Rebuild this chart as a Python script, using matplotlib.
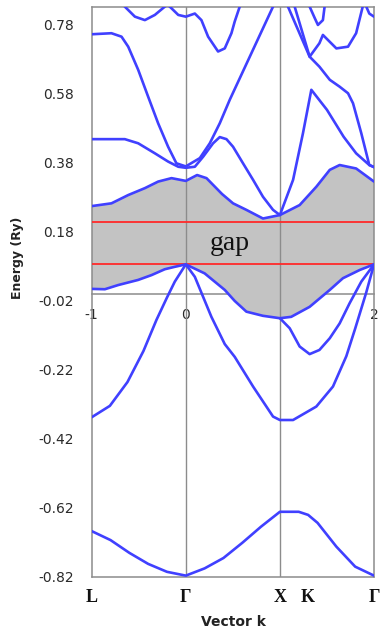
import matplotlib
matplotlib.use("Agg")
import matplotlib.pyplot as plt

# ---- data ----
ytick_values = [-0.82, -0.62, -0.42, -0.22, -0.02, 0.18, 0.38, 0.58, 0.78]
xtick_values = [-1, 0, 1, 2]
sym_positions = [-1, 0, 1, 1.3, 2]
sym_labels = ["L", "Γ", "X", "K", "Γ"]
gap_top = 0.21
gap_bottom = 0.086

band1_k = [-1, -0.8, -0.6, -0.4, -0.2, 0, 0.2, 0.4, 0.6, 0.8, 1.0, 1.2, 1.3, 1.4, 1.6, 1.8, 2.0]
band1_E = [-0.687, -0.713, -0.750, -0.782, -0.805, -0.816, -0.795, -0.765, -0.721, -0.674, -0.631,
           -0.631, -0.640, -0.663, -0.732, -0.790, -0.816]

band2_k = [-1, -0.807, -0.62, -0.45, -0.312, -0.2, -0.117, 0, 0.096, 0.272, 0.414, 0.52, 0.715,
           0.927, 1.0, 1.14, 1.387, 1.564, 1.706, 1.80, 1.918, 2.0]
band2_E = [-0.357, -0.324, -0.255, -0.165, -0.075, -0.010, 0.036, 0.086, 0.050, -0.066, -0.145,
           -0.182, -0.268, -0.355, -0.365, -0.365, -0.326, -0.268, -0.180, -0.100, 0.005, 0.086]

band3_k = [1.0, 1.104, 1.21, 1.316, 1.42, 1.53, 1.635, 1.74, 1.865, 2.0]
band3_E = [-0.070, -0.099, -0.152, -0.174, -0.162, -0.128, -0.085, -0.027, 0.036, 0.086]

band4_k = [-1, -0.86, -0.72, -0.506, -0.364, -0.223, -0.117, 0, 0.2, 0.414, 0.52, 0.644, 0.82,
           1.0, 1.12, 1.316, 1.53, 1.67, 1.85, 2.0]
band4_E = [0.015, 0.014, 0.026, 0.041, 0.055, 0.072, 0.079, 0.086, 0.060, 0.012, -0.020, -0.051,
           -0.063, -0.070, -0.066, -0.037, 0.012, 0.046, 0.070, 0.086]

band5_k = [-1, -0.79, -0.612, -0.435, -0.294, -0.152, 0, 0.12, 0.22, 0.385, 0.502, 0.644, 0.82,
           1.0, 1.21, 1.387, 1.53, 1.635, 1.81, 2.0]
band5_E = [0.255, 0.263, 0.287, 0.307, 0.326, 0.336, 0.328, 0.345, 0.336, 0.290, 0.263, 0.244,
           0.219, 0.229, 0.258, 0.311, 0.360, 0.374, 0.364, 0.326]

band6_k = [-1, -0.648, -0.506, -0.329, -0.188, -0.08, 0, 0.096, 0.184, 0.29, 0.361, 0.432, 0.502,
           0.608, 0.715, 0.82, 0.927, 1.0, 1.14, 1.245, 1.334, 1.5, 1.677, 1.81, 1.95, 2.0]
band6_E = [0.449, 0.449, 0.437, 0.408, 0.384, 0.369, 0.366, 0.369, 0.398, 0.437, 0.455, 0.449,
           0.427, 0.379, 0.331, 0.282, 0.244, 0.229, 0.331, 0.466, 0.592, 0.534, 0.456, 0.408,
           0.374, 0.368]

band7_k = [-1, -0.79, -0.683, -0.612, -0.506, -0.4, -0.294, -0.188, -0.1, 0, 0.149, 0.255, 0.361,
           0.467, 0.68, 0.927, 1.0, 1.086, 1.316, 1.42, 1.53, 1.635, 1.724, 1.777, 1.865, 1.95, 2.0]
band7_E = [0.753, 0.756, 0.746, 0.717, 0.650, 0.572, 0.495, 0.427, 0.379, 0.370, 0.394, 0.437,
           0.495, 0.563, 0.688, 0.833, 0.867, 0.833, 0.688, 0.659, 0.621, 0.601, 0.582, 0.553,
           0.466, 0.374, 0.368]

band8_k = [-1, -0.75, -0.648, -0.541, -0.435, -0.329, -0.223, -0.195, -0.17, -0.08, 0, 0.096,
           0.166, 0.237, 0.343, 0.414, 0.485, 0.52, 0.573, 0.75, 1.0, 1.157, 1.316, 1.42, 1.457,
           1.6, 1.724, 1.81, 1.88, 2.0]
band8_E = [0.98, 0.87, 0.833, 0.804, 0.794, 0.809, 0.833, 0.838, 0.833, 0.809, 0.804, 0.813,
           0.794, 0.746, 0.703, 0.712, 0.756, 0.790, 0.833, 0.93, 0.95, 0.833, 0.688, 0.727, 0.751,
           0.712, 0.717, 0.756, 0.833, 0.95]

band9_k = [1.0, 1.316, 1.37, 1.404, 1.457, 1.475, 1.7, 1.918, 1.95, 2.0]
band9_E = [1.0, 0.833, 0.800, 0.780, 0.794, 0.833, 0.95, 0.833, 0.813, 0.804]

bands = [(band1_k, band1_E), (band2_k, band2_E), (band3_k, band3_E), (band4_k, band4_E),
         (band5_k, band5_E), (band6_k, band6_E), (band7_k, band7_E), (band8_k, band8_E),
         (band9_k, band9_E)]

# ---- figure ----
W, H = 380, 629
fig = plt.figure(figsize=(W / 100, H / 100), dpi=100)
ax = fig.add_axes([91.7 / W, 1 - 577 / H, (374 - 91.7) / W, (577 - 7) / H])

ymin, ymax = -0.82, 0.832
ax.set_xlim(-1, 2)
ax.set_ylim(ymin, ymax)

frame_col = "#8c8c8c"
for s in ax.spines.values():
    s.set_color(frame_col)
    s.set_linewidth(1.1)

# gap shading: between top valence band and bottom conduction band
poly_x = list(band5_k) + list(band4_k)[::-1]
poly_y = list(band5_E) + list(band4_E)[::-1]
ax.fill(poly_x, poly_y, color="#c3c3c3", lw=0, zorder=1)

# vertical grid lines
for xv in [0, 1]:
    ax.axvline(xv, color=frame_col, lw=1.0, zorder=2)

# red gap lines
ax.axhline(gap_top, color="#ff2a2a", lw=1.3, zorder=3)
ax.axhline(gap_bottom, color="#ff2a2a", lw=1.3, zorder=3)

for k, e in bands:
    ax.plot(k, e, color="#4040ff", lw=1.9, solid_joinstyle="round", solid_capstyle="round",
            zorder=4)

ax.text(0.47, 0.148, "gap", family="Liberation Serif", fontsize=20, color="#111111",
        ha="center", va="center", zorder=5)

# y axis
ax.set_yticks(ytick_values)
ax.set_yticklabels([f"{v:.2f}" for v in ytick_values])
ax.tick_params(axis="y", length=0, pad=13, labelsize=10, labelcolor="#2a2a2a")
ax.set_xticks([])

# x axis through E = 0
loc = (0 - ymin) / (ymax - ymin)
sec = ax.secondary_xaxis(loc)
sec.set_xticks(xtick_values)
sec.set_xticklabels([str(v) for v in xtick_values])
sec.tick_params(axis="x", length=0, pad=10, labelsize=10, labelcolor="#2a2a2a")
sec.spines["bottom"].set_color(frame_col)
sec.spines["bottom"].set_linewidth(1.1)

# symmetry-point labels
for xv, lab in zip(sym_positions, sym_labels):
    ax.annotate(lab, xy=(xv, ymin), xycoords="data", xytext=(0, -20), textcoords="offset pixels",
                ha="center", va="center", family="Liberation Serif", fontweight="bold",
                fontsize=13, color="#111111", annotation_clip=False)

fig.text(233 / W, 1 - 622 / H, "Vector k", ha="center", va="center", fontsize=10,
         fontweight="bold", color="#222222")
fig.text(18 / W, 1 - 258 / H, "Energy (Ry)", ha="center", va="center", rotation=90,
         fontsize=9, fontweight="bold", color="#222222")

fig.savefig("out.png", dpi=100)
